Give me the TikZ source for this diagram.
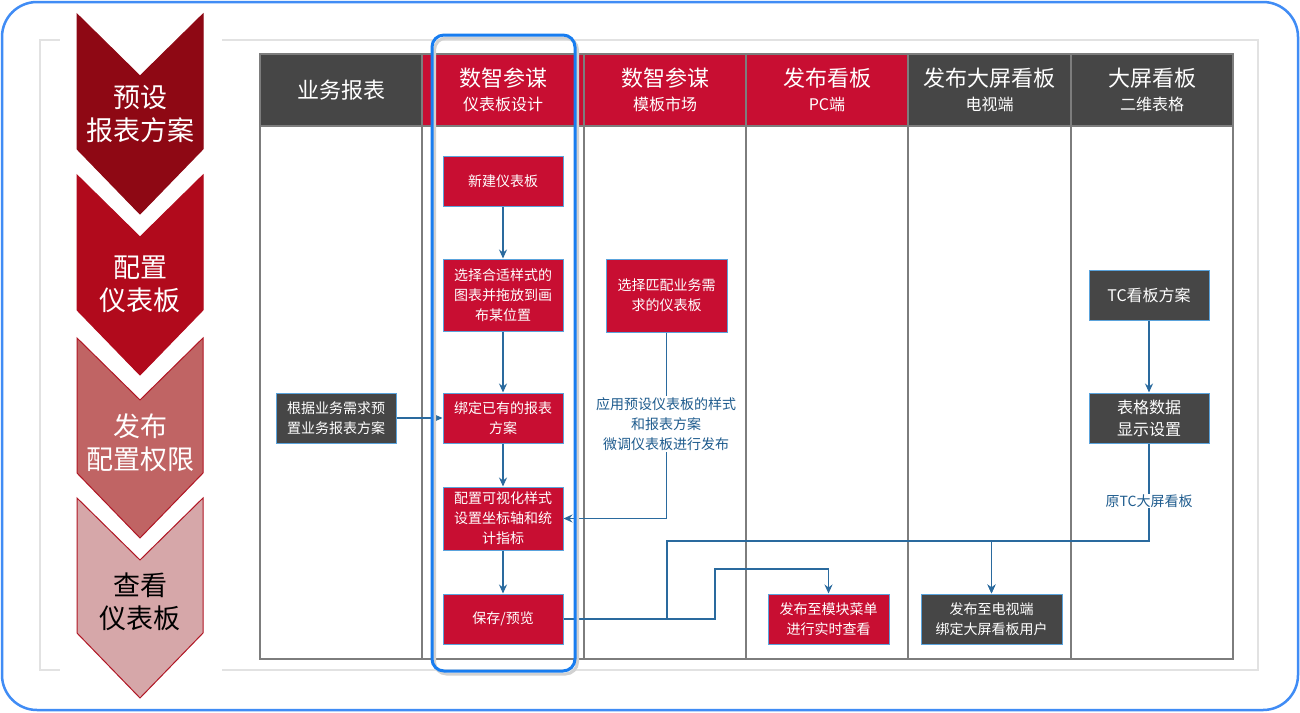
\documentclass[tikz,border=0pt]{standalone}
\usepackage{fontspec}
\setmainfont{Noto Sans CJK SC}
\usetikzlibrary{arrows.meta,calc}
\definecolor{redm}{RGB}{200,14,50}
\definecolor{grayd}{RGB}{70,70,70}
\definecolor{boxedge}{RGB}{90,163,220}
\definecolor{connc}{RGB}{42,106,158}
\definecolor{labc}{RGB}{31,92,142}
\definecolor{outerblue}{RGB}{64,140,245}
\definecolor{hlblue}{RGB}{24,125,240}
\definecolor{gridc}{RGB}{125,125,125}
\definecolor{frameg}{RGB}{226,226,226}
\definecolor{chA}{RGB}{142,8,20}
\definecolor{chB}{RGB}{177,10,28}
\definecolor{chC}{RGB}{192,100,100}
\definecolor{chD}{RGB}{214,167,169}
\definecolor{chedge}{RGB}{176,22,36}
\newcommand\mychevron[3]{%
  \filldraw[fill=#2, draw=#3, line width=1pt, line join=miter]
    (77,#1) -- (140,#1+62) -- (203,#1) -- (203,#1+135) -- (140,#1+200) -- (77,#1+135) -- cycle;}
\tikzset{
  boxr/.style={draw=boxedge, line width=1pt, fill=redm, text=white, align=center,
    inner sep=0pt, font=\fontsize{14}{20}\selectfont},
  boxg/.style={boxr, fill=grayd},
  conn/.style={draw=connc, line width=1.2pt, -{Stealth[length=9pt,width=8pt,inset=3pt]}},
  connplain/.style={draw=connc, line width=1.2pt},
  lab/.style={fill=white, text=labc, align=center, inner sep=1pt, font=\fontsize{14}{20}\selectfont},
  hmain/.style={text=white, font=\fontsize{22}{26}\selectfont},
  hsub/.style={text=white, font=\fontsize{16}{20}\selectfont},
  chtext/.style={align=center, font=\fontsize{27}{33}\selectfont},
}
\begin{document}
\begin{tikzpicture}[x=1pt,y=-1pt]
\useasboundingbox (0,0) rectangle (1300,712);
\fill[white] (0,0) rectangle (1300,712);
% outer frame
\draw[outerblue, line width=2.5pt, rounded corners=35pt] (2,2) rectangle (1298,710);
% inner light frame
\draw[frameg, line width=1.5pt] (40,40) rectangle (1258,670);
\fill[white] (60,30) rectangle (222,680);
% chevrons
\mychevron{14}{chA}{chA}
\mychevron{175}{chB}{chB}
\mychevron{338}{chC}{chedge}
\mychevron{498}{chD}{chedge}
\node[chtext, text=white] (s1) at (140,114) {预设\\报表方案};
\node[chtext, text=white] (s2) at (140,284.5) {配置\\仪表板};
\node[chtext, text=white] (s3) at (140,442.5) {发布\\配置权限};
\node[chtext, text=black] (s4) at (140,601.5) {查看\\仪表板};
% header fills
\fill[grayd] (260,54) rectangle (422,126);
\fill[redm] (422,54) rectangle (584,126);
\fill[redm] (584,54) rectangle (746,126);
\fill[redm] (746,54) rectangle (908,126);
\fill[grayd] (908,54) rectangle (1071,126);
\fill[grayd] (1071,54) rectangle (1233,126);
% grid
\draw[gridc, line width=1.5pt] (260,54) rectangle (1233,659);
\draw[gridc, line width=1.5pt] (260,126) -- (1233,126);
\foreach \xx in {422,584,746,908,1071} \draw[gridc, line width=1.5pt] (\xx,54) -- (\xx,659);
% header texts
\node[hmain] (h1) at (341,90) {业务报表};
\node[hmain] (h2a) at (503,78) {数智参谋};
\node[hsub] (h2b) at (503,104) {仪表板设计};
\node[hmain] (h3a) at (665,78) {数智参谋};
\node[hsub] (h3b) at (665,104) {模板市场};
\node[hmain] (h4a) at (827,78) {发布看板};
\node[hsub] (h4b) at (827,104) {PC端};
\node[hmain] (h5a) at (989.5,78) {发布大屏看板};
\node[hsub] (h5b) at (989.5,104) {电视端};
\node[hmain] (h6a) at (1152,78) {大屏看板};
\node[hsub] (h6b) at (1152,104) {二维表格};
% boxes
\node[boxr, minimum width=120pt, minimum height=50pt] (n1) at (503,181) {新建仪表板};
\node[boxr, minimum width=120pt, minimum height=72pt] (n2) at (503,295) {选择合适样式的\\图表并拖放到画\\布某位置};
\node[boxr, minimum width=120pt, minimum height=50pt] (n3) at (503,418) {绑定已有的报表\\方案};
\node[boxr, minimum width=120pt, minimum height=63pt] (n4) at (503,518.5) {配置可视化样式\\设置坐标轴和统\\计指标};
\node[boxr, minimum width=120pt, minimum height=50pt] (n5) at (503,619) {保存/预览};
\node[boxg, minimum width=120pt, minimum height=50pt] (a1) at (336,418) {根据业务需求预\\置业务报表方案};
\node[boxr, minimum width=121pt, minimum height=73pt] (m1) at (666.5,295.5) {选择匹配业务需\\求的仪表板};
\node[boxr, minimum width=121pt, minimum height=50pt] (p1) at (828.5,619) {发布至模块菜单\\进行实时查看};
\node[boxg, minimum width=141pt, minimum height=50pt] (t1) at (991.5,619) {发布至电视端\\绑定大屏看板用户};
\node[boxg, minimum width=120pt, minimum height=50pt, font=\fontsize{16}{22}\selectfont] (c1) at (1149,295) {TC看板方案};
\node[boxg, minimum width=120pt, minimum height=50pt, font=\fontsize{16}{22}\selectfont] (c2) at (1149,418) {表格数据\\显示设置};
% connectors
\coordinate (j1) at (715,569);
\coordinate (j2) at (667,541);
\draw[conn] (n1.south) -- (n2.north);
\draw[conn] (n2.south) -- (n3.north);
\draw[conn] (n3.south) -- (n4.north);
\draw[conn] (n4.south) -- (n5.north);
\draw[conn] (a1.east) -- (n3.west);
\draw[conn] (m1.south) |- (n4.east);
\draw[conn] (n5.east) -| (j1) -| (p1.north);
\draw[conn] (n5.east) -| (j2) -| (t1.north);
\draw[conn] (c1.south) -- (c2.north);
\draw[conn] (c2.south) -- (c2.south |- j2) -| (t1.north);
% labels on lines
\node[lab] (L1) at (666,424) {应用预设仪表板的样式\\和报表方案\\微调仪表板进行发布};
\node[lab] (L2) at (1149,501) {原TC大屏看板};
% highlight
\draw[black!18, line width=3pt, rounded corners=12pt] (434.5,38) rectangle (577.5,674);
\draw[hlblue, line width=3pt, rounded corners=12pt] (432,35) rectangle (575,671);
\end{tikzpicture}
\end{document}
